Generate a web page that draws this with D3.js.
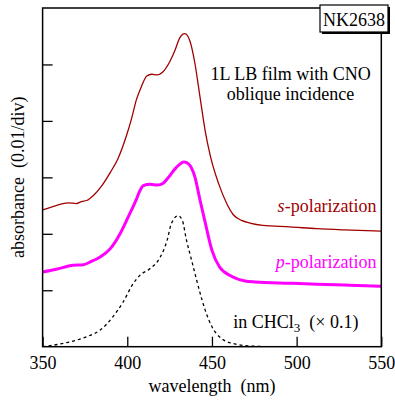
<!DOCTYPE html>
<html>
<head>
<meta charset="utf-8">
<script src="https://cdn.jsdelivr.net/npm/d3@7"></script>
<style>
  body { margin: 0; background: #fff; }
  svg text { font-family: "Liberation Serif", "Times New Roman", serif; }
</style>
</head>
<body>
<div id="spectra"></div>
<script>
// data (wavelength in nm, absorbance)
var sWave = [350, 358, 365, 370, 373, 376, 380, 385, 390, 394.5, 399.5, 402.5, 405.5, 408.5, 411.5,
             414.5, 417.5, 421, 425, 428, 431, 434, 437, 440, 443, 446, 449, 454, 459, 462.5,
             467.5, 472.5, 480, 496, 512, 528, 550];
var sAbs = [0.02422, 0.02501, 0.02549, 0.02536, 0.02572, 0.02590, 0.02678, 0.02854, 0.03089, 0.03331,
            0.03737, 0.04037, 0.04385, 0.04620, 0.04796, 0.04826, 0.04814, 0.04867, 0.05043, 0.05237,
            0.05472, 0.05546, 0.05414, 0.05008, 0.04413, 0.03825, 0.03384, 0.02884, 0.02519, 0.02342,
            0.02237, 0.02189, 0.02148, 0.02122, 0.02090, 0.02069, 0.02048];

var pWave = [350, 358, 368, 374, 378, 384, 390, 395.5, 400.5, 405.5, 407.5, 409.5, 413.5, 418, 421,
             424, 429, 433.5, 436, 440, 443, 446, 450, 454.5, 461.5, 469.5, 475.5, 496, 512, 531.5, 550];
var pAbs = [0.01324, 0.01372, 0.01442, 0.01451, 0.01500, 0.01589, 0.01737, 0.01989, 0.02295, 0.02620,
            0.02766, 0.02854, 0.02877, 0.02863, 0.02890, 0.02987, 0.03177, 0.03274, 0.03243, 0.03001,
            0.02590, 0.02201, 0.01707, 0.01412, 0.01248, 0.01165, 0.01147, 0.01124, 0.01107, 0.01089,
            0.01071];

// solution spectrum, already scaled by 0.1
var cWave = [350, 364, 376, 384, 391.5, 397.5, 403.5, 407.5, 413.5, 419.5, 423.5, 426, 430, 432.5,
             435, 438, 441, 444, 446, 450, 455.5, 463.5, 472.5, 485];
var cAbs = [0, 0.00071, 0.00177, 0.00295, 0.00530, 0.00789, 0.01119, 0.01266, 0.01384, 0.01589,
            0.01883, 0.02178, 0.02320, 0.02237, 0.01883, 0.01530, 0.01177, 0.00842, 0.00648, 0.00353,
            0.00148, 0.00048, 0.00012, 0];

var xTicks = [350, 400, 450, 500, 550];
var yTicks = [0.01, 0.02, 0.03, 0.04, 0.05];

var serif = "'Liberation Serif', 'Times New Roman', serif";

// set the dimensions and margins of the graph
var margin = {top: 8, right: 13.7, bottom: 53.3, left: 42.6},
    width = 395 - margin.left - margin.right,
    height = 400 - margin.top - margin.bottom;

var svg = d3.select("#spectra")
    .append("svg")
    .attr("width", 395)
    .attr("height", 400)
    .attr("font-family", serif)
    .append("g")
    .attr("transform", "translate(" + margin.left + "," + margin.top + ")");

var x = d3.scaleLinear().domain([350, 550]).range([0, width]);
var y = d3.scaleLinear().domain([0, 0.06]).range([height, 0]);

function zip(w, a) {
    return w.map(function(d, i) { return [d, a[i]]; });
}

var line = d3.line()
    .curve(d3.curveMonotoneX)
    .x(function(d) { return x(d[0]); })
    .y(function(d) { return y(d[1]); });

// clip the curves to the frame
svg.append("clipPath").attr("id", "plotclip")
    .append("rect").attr("width", width).attr("height", height);

var plot = svg.append("g").attr("clip-path", "url(#plotclip)");

plot.append("path")
    .datum(zip(cWave, cAbs))
    .attr("fill", "none")
    .attr("stroke", "#000")
    .attr("stroke-width", 1.3)
    .attr("stroke-dasharray", "3,3")
    .attr("d", line);

plot.append("path")
    .datum(zip(sWave, sAbs))
    .attr("fill", "none")
    .attr("stroke", "#a00000")
    .attr("stroke-width", 1.3)
    .attr("d", line);

plot.append("path")
    .datum(zip(pWave, pAbs))
    .attr("fill", "none")
    .attr("stroke", "#ff00ff")
    .attr("stroke-width", 3)
    .attr("stroke-linejoin", "round")
    .attr("d", line);

// x axis: inward ticks
var xAxis = svg.append("g")
    .attr("transform", "translate(0," + height + ")")
    .call(d3.axisBottom(x).tickValues(xTicks).tickSize(-10).tickPadding(10));
xAxis.attr("font-family", serif).attr("font-size", 18);
xAxis.select(".domain").remove();
xAxis.selectAll("line").attr("stroke", "#000").attr("stroke-width", 1.3);
xAxis.selectAll("text")
    .attr("font-family", serif)
    .attr("font-size", 18)
    .attr("fill", "#000");

// y axis: inward ticks, no labels
var yAxis = svg.append("g")
    .call(d3.axisLeft(y).tickValues(yTicks).tickSize(-10).tickFormat(""));
yAxis.select(".domain").remove();
yAxis.selectAll("line").attr("stroke", "#000").attr("stroke-width", 1.3);

// frame
svg.append("rect")
    .attr("width", width)
    .attr("height", height)
    .attr("fill", "none")
    .attr("stroke", "#000")
    .attr("stroke-width", 1.5);

// axis titles
svg.append("text")
    .attr("x", width / 2)
    .attr("y", height + 45)
    .attr("font-family", serif)
    .style("text-anchor", "middle")
    .style("font-size", "18px")
    .text("wavelength\u00a0\u00a0(nm)");

svg.append("text")
    .attr("transform", "translate(" + (-19) + "," + (height / 2) + ") rotate(-90)")
    .attr("font-family", serif)
    .style("text-anchor", "middle")
    .style("font-size", "18px")
    .text("absorbance\u00a0\u00a0(0.01/div)");

// annotations
svg.append("text")
    .attr("x", 248)
    .attr("y", 72)
    .attr("font-family", serif)
    .style("text-anchor", "middle")
    .style("font-size", "18px")
    .text("1L LB film with CNO");
svg.append("text")
    .attr("x", 248)
    .attr("y", 92)
    .attr("font-family", serif)
    .style("text-anchor", "middle")
    .style("font-size", "18px")
    .text("oblique incidence");

var sLab = svg.append("text")
    .attr("x", 334)
    .attr("y", 204)
    .attr("font-family", serif)
    .style("text-anchor", "end")
    .style("font-size", "18px")
    .attr("fill", "#a00000");
sLab.append("tspan").style("font-style", "italic").text("s");
sLab.append("tspan").text("-polarization");

var pLab = svg.append("text")
    .attr("x", 334)
    .attr("y", 260)
    .attr("font-family", serif)
    .style("text-anchor", "end")
    .style("font-size", "18px")
    .attr("fill", "#ff00ff");
pLab.append("tspan").style("font-style", "italic").text("p");
pLab.append("tspan").text("-polarization");

var cLab = svg.append("text")
    .attr("x", 190.7)
    .attr("y", 320)
    .attr("font-family", serif)
    .style("font-size", "18px");
cLab.append("tspan").text("in CHCl");
cLab.append("tspan").attr("dy", 4).style("font-size", "13px").text("3");
cLab.append("tspan").attr("dy", -4).text("\u00a0\u00a0(\u00d7 0.1)");

// sample id box in the top right corner
var box = svg.append("g").attr("transform", "translate(" + (320 - margin.left) + "," + (5 - margin.top) + ")");
box.append("rect")
    .attr("x", 2).attr("y", 2)
    .attr("width", 68).attr("height", 27)
    .attr("fill", "#000");
box.append("rect")
    .attr("width", 68).attr("height", 27)
    .attr("fill", "#fff")
    .attr("stroke", "#000")
    .attr("stroke-width", 1.2);
box.append("text")
    .attr("x", 34)
    .attr("y", 21)
    .attr("font-family", serif)
    .style("text-anchor", "middle")
    .style("font-size", "18px")
    .text("NK2638");
</script>
</body>
</html>
